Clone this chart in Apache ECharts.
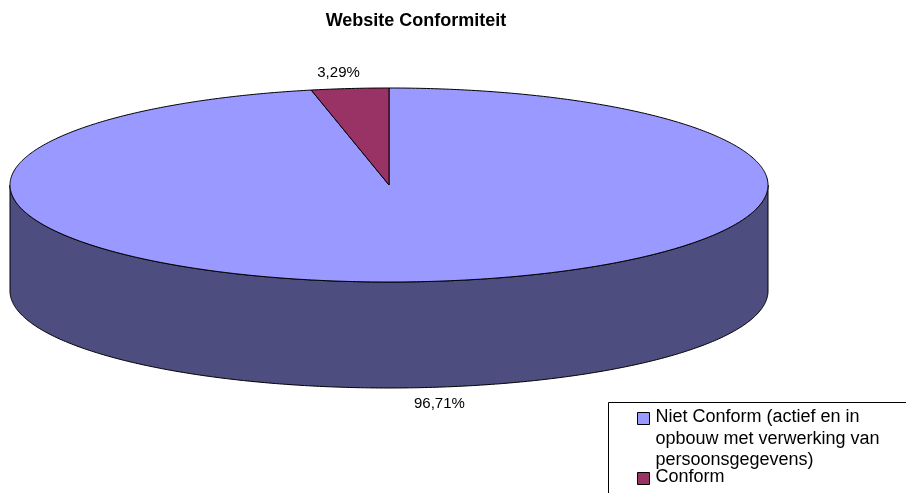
<!DOCTYPE html>
<html>
<head>
<meta charset="utf-8">
<title>Website Conformiteit</title>
<style>
  html, body { margin: 0; padding: 0; background: #fff; }
  #container { width: 906px; height: 493px; }
</style>
</head>
<body>
<div id="container"></div>
<script src="https://cdn.jsdelivr.net/npm/echarts@6/dist/echarts.min.js"></script>
<script>
// data
var categories = ['Niet Conform (actief en in opbouw met verwerking van persoonsgegevens)', 'Conform'];
var values = [96.71, 3.29];
var topColors = ['#9999FF', '#993366'];
var sideColors = ['#4D4D7F', '#4D1A33'];

var FONT = '"Liberation Sans", Arial, sans-serif';

// layout of the 3d pie
var cx = 389, cy = 185, rx = 379, ry = 97, depth = 106;

var total = values.reduce(function (a, b) { return a + b; }, 0);
var starts = [];
values.reduce(function (acc, v, i) { starts[i] = acc; return acc + v; }, 0);

function pt(a, dy) {
    return [cx + rx * Math.sin(a), cy - ry * Math.cos(a) + dy];
}
function arc(a0, a1, dy) {
    var pts = [];
    var n = Math.max(2, Math.ceil(Math.abs(a1 - a0) / 0.01));
    for (var k = 0; k <= n; k++) {
        pts.push(pt(a0 + (a1 - a0) * k / n, dy));
    }
    return pts;
}
function fmtPct(v) {
    return (v / total * 100).toFixed(2).replace('.', ',') + '%';
}
function wrap(text, max) {
    var words = text.split(' '), lines = [], cur = '';
    words.forEach(function (w) {
        if (cur && (cur + ' ' + w).length > max) { lines.push(cur); cur = w; }
        else { cur = cur ? cur + ' ' + w : w; }
    });
    if (cur) lines.push(cur);
    return lines.join('\n');
}

function renderSlice(params, api) {
    var i = params.seriesIndex;
    var v = api.value(0);
    var a0 = starts[i] / total * Math.PI * 2;
    var a1 = (starts[i] + v) / total * Math.PI * 2;
    var children = [];

    // front side wall (visible between 3 and 9 o'clock)
    var s = Math.max(a0, Math.PI / 2), e = Math.min(a1, Math.PI * 1.5);
    if (s < e) {
        children.push({
            type: 'polygon',
            shape: { points: arc(s, e, 0).concat(arc(e, s, depth)) },
            style: { fill: sideColors[i], stroke: '#000', lineWidth: 1 }
        });
    }
    // top face
    children.push({
        type: 'polygon',
        shape: { points: [[cx, cy]].concat(arc(a0, a1, 0)) },
        style: { fill: topColors[i], stroke: '#000', lineWidth: 1 }
    });
    // data label
    var mid = (a0 + a1) / 2;
    var front = Math.cos(mid) < 0;
    var anchor = pt(mid, front ? depth : 0);
    children.push({
        type: 'text',
        style: {
            x: anchor[0] + 110 * Math.sin(mid),
            y: anchor[1] - 16 * Math.cos(mid),
            text: fmtPct(v),
            align: 'center',
            verticalAlign: 'middle',
            fill: '#000',
            font: '15px ' + FONT
        }
    });
    return { type: 'group', children: children };
}

var series = categories.map(function (name, i) {
    return {
        type: 'custom',
        name: name,
        coordinateSystem: 'none',
        silent: true,
        itemStyle: { color: topColors[i] },
        renderItem: renderSlice,
        data: [[values[i]]]
    };
});

// legend box
var legendChildren = [{
    type: 'rect',
    shape: { x: 0, y: 0, width: 320, height: 140 },
    style: { fill: '#fff', stroke: '#000', lineWidth: 1 }
}];
var rowTop = [4, 64];
categories.forEach(function (name, i) {
    legendChildren.push({
        type: 'rect',
        shape: { x: 29, y: rowTop[i] + 6, width: 12, height: 12 },
        style: { fill: topColors[i], stroke: '#000', lineWidth: 1 }
    });
    legendChildren.push({
        type: 'text',
        x: 47, y: rowTop[i],
        style: {
            text: wrap(name, 26),
            font: '18px ' + FONT,
            lineHeight: 21.5,
            fill: '#000'
        }
    });
});

var myChart = echarts.init(document.getElementById('container'));
myChart.setOption({
    animation: false,
    backgroundColor: '#fff',
    title: {
        text: 'Website Conformiteit',
        left: 411,
        top: 7,
        textAlign: 'center',
        textStyle: { fontFamily: FONT, fontSize: 18, fontWeight: 'bold', color: '#000' }
    },
    graphic: [{
        type: 'group',
        left: 608,
        top: 402,
        children: legendChildren
    }],
    series: series
});
</script>
</body>
</html>
